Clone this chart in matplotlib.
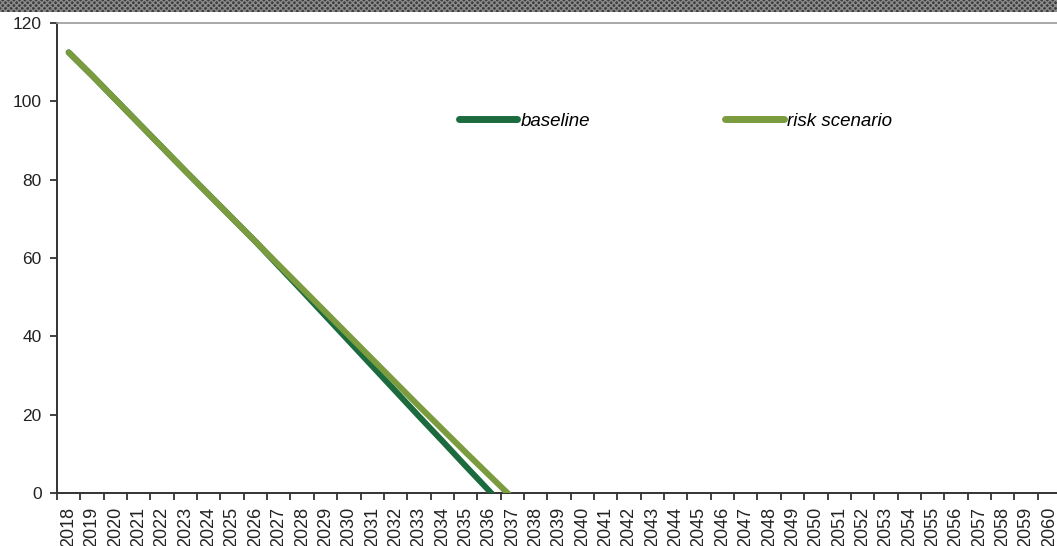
import matplotlib
matplotlib.use("Agg")
import matplotlib.pyplot as plt
from matplotlib.patches import Rectangle
import numpy as np

years = list(range(2018, 2061))
baseline = [112.5, 106.6, 100.5, 94.4, 88.3, 82.2, 76.2, 70.2, 64.2, 57.9, 51.6,
            45.2, 38.8, 32.4, 26.0, 19.6, 13.3, 6.9, 0.6, -5.6]
risk = [112.5, 106.6, 100.5, 94.4, 88.3, 82.2, 76.2, 70.2, 64.2, 58.2, 52.2,
        46.2, 40.2, 34.2, 28.2, 22.2, 16.3, 10.4, 4.6, -1.2]
yticks = [0, 20, 40, 60, 80, 100, 120]

plt.rcParams['font.family'] = ['Liberation Sans', 'DejaVu Sans']

W, H = 1057, 546
fig = plt.figure(figsize=(W/100, H/100), dpi=100)
ax = fig.add_axes([57/W, 1-493/H, (1061-57)/W, (493-23)/H])

x = np.arange(len(years))
ax.plot(x[:len(baseline)], baseline, color='#1b6b3e', lw=4.3, solid_capstyle='round',
        label='baseline', zorder=3)
ax.plot(x[:len(risk)], risk, color='#7a9b3e', lw=4.3, solid_capstyle='round',
        label='risk scenario', zorder=4)

ax.set_xlim(-0.5, len(years)-0.5)
ax.set_ylim(0, 120)
ax.set_yticks(yticks)
ax.set_yticklabels([str(v) for v in yticks], fontsize=12.5, color='#222222')
ax.set_xticks(x)
ax.set_xticklabels([str(y) for y in years], rotation=90, fontsize=13, color='#222222')
ax.set_xticks(np.arange(-0.5, len(years)), minor=True)
ax.tick_params(axis='x', which='major', length=0, pad=10)
ax.tick_params(axis='x', which='minor', length=5, width=1.3, color='#333333', direction='out')
ax.tick_params(axis='y', length=5, width=1.3, color='#333333', direction='out', pad=6)

for s in ['left', 'bottom']:
    ax.spines[s].set_color('#333333')
    ax.spines[s].set_linewidth(1.4)
ax.spines['top'].set_color('#999999')
ax.spines['top'].set_linewidth(1.2)
ax.spines['right'].set_visible(False)

leg = fig.legend(loc='center left', bbox_to_anchor=(459/W, 1-121/H), ncol=2,
                 frameon=False, prop={'style': 'italic', 'size': 13.5},
                 handlelength=3.1, handletextpad=0.2, columnspacing=7.2,
                 borderpad=0, borderaxespad=0)
for line in leg.get_lines():
    line.set_linewidth(5)

band = Rectangle((0, 1-12/H), 1, 12/H, transform=fig.transFigure,
                 facecolor='#3e3e3e', edgecolor='#8c8c8c', hatch='xxxxxx',
                 linewidth=0, zorder=10)
fig.patches.append(band)

fig.savefig('out.png', dpi=100)
